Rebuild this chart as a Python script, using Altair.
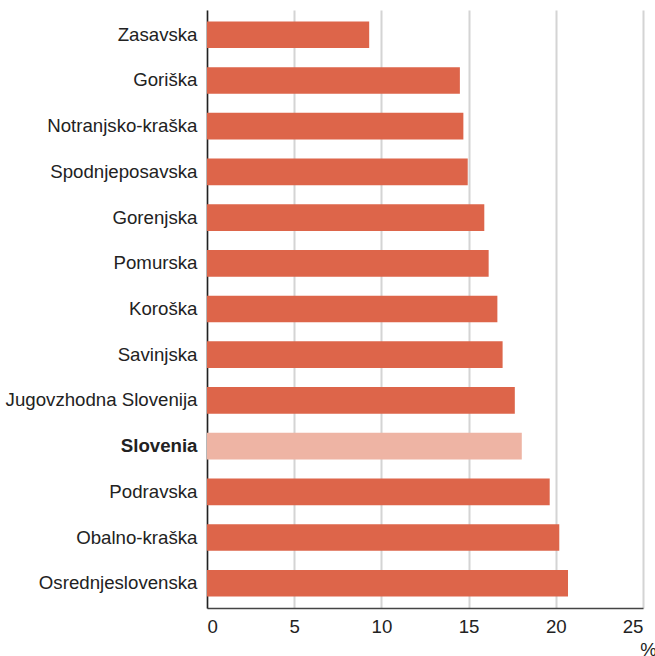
import altair as alt
import pandas as pd

regions = ["Zasavska", "Goriška", "Notranjsko-kraška", "Spodnjeposavska", "Gorenjska",
           "Pomurska", "Koroška", "Savinjska", "Jugovzhodna Slovenija", "Slovenia",
           "Podravska", "Obalno-kraška", "Osrednjeslovenska"]
values = [9.3, 14.5, 14.7, 14.95, 15.9, 16.15, 16.65, 16.95, 17.65, 18.05, 19.65, 20.2, 20.7]
is_total = [r == "Slovenia" for r in regions]

df = pd.DataFrame({"region": regions, "value": values, "total": is_total})

font = "Liberation Sans"
fs = 18.67

chart = alt.Chart(df).mark_bar().encode(
    y=alt.Y("region:N", sort=regions,
            scale=alt.Scale(paddingInner=0.416, paddingOuter=0.25),
            axis=alt.Axis(title=None, domain=True, domainColor="#222222", domainWidth=1.5,
                          ticks=False, labelPadding=10, labelFontSize=fs, labelFont=font,
                          labelColor="#222222", labelLimit=300,
                          labelFontWeight=alt.expr("datum.value === 'Slovenia' ? 'bold' : 'normal'"),
                          grid=False)),
    x=alt.X("value:Q", scale=alt.Scale(domain=[0, 25], nice=False),
            axis=alt.Axis(values=[0, 5, 10, 15, 20, 25], title="%", titleX=441, titleY=41,
                          titleAlign="center", titleBaseline="middle", titleFontSize=fs,
                          titleFontWeight="normal", titleFont=font, titleColor="#222222",
                          domainColor="#444444", domainWidth=1.5, ticks=False,
                          labelPadding=9, labelFontSize=fs, labelFont=font, labelColor="#222222",
                          grid=True, gridColor="#d4d4d4", gridWidth=2)),
    color=alt.Color("total:N", scale=alt.Scale(domain=[False, True], range=["#dd654a", "#eeb4a4"]),
                    legend=None),
).properties(
    width=436, height=598,
    autosize=alt.AutoSizeParams(type="none"),
    padding={"left": 207, "top": 10, "right": 12, "bottom": 48},
).configure_view(stroke=None)

chart.save("out.html", embed_options={"renderer": "svg", "actions": False})
